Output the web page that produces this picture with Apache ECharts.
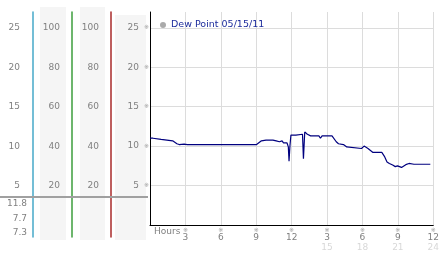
<!DOCTYPE html>
<html><head><meta charset="utf-8">
<script src="https://cdn.jsdelivr.net/npm/echarts@6/dist/echarts.min.js"></script>
<style>html,body{margin:0;padding:0;background:#fff}#c{width:442px;height:253px}</style>
</head><body><div id="c"></div>
<script>
const seriesName = 'Dew Point 05/15/11';
const hours = [0, 0.25, 0.94, 1.92, 2.28, 2.47, 2.89, 3.03, 3.17, 9.03, 9.44, 9.83, 10.42, 10.56, 10.69, 10.97, 11.19, 11.31, 11.47, 11.61, 11.72, 11.78, 11.86, 11.94, 12.36, 12.92, 13.0, 13.11, 13.33, 13.61, 14.31, 14.44, 14.58, 15.42, 15.56, 15.78, 15.97, 16.39, 16.67, 16.81, 17.92, 18.14, 18.47, 18.89, 19.64, 19.86, 20.08, 20.28, 20.56, 20.78, 20.97, 21.31, 21.47, 21.67, 21.94, 22.08, 22.36, 23.75];
const dewPoint = [11.0, 11.0, 10.85, 10.67, 10.3, 10.2, 10.25, 10.35, 10.2, 10.2, 10.67, 10.76, 10.76, 10.85, 10.67, 10.55, 10.67, 10.4, 10.5, 10.4, 9.9, 8.1, 10.1, 11.4, 11.4, 11.5, 8.4, 11.8, 11.5, 11.3, 11.3, 11.0, 11.3, 11.3, 11.1, 10.55, 10.3, 10.2, 9.9, 9.7, 9.7, 10.0, 9.7, 9.2, 9.2, 8.7, 8.0, 7.8, 7.6, 7.4, 7.5, 7.3, 7.5, 7.65, 7.8, 7.65, 7.7, 7.7];
const yTicks = [5, 10, 15, 20, 25];
const pctTicks = [20, 40, 60, 80, 100];
const statLabels = ['11.8', '7.7', '7.3'];
const xAxisTitle = 'Hours';

const FONT = 'DejaVu Sans';
const GRAY = '#808080';
const MARK = '※';
const chart = echarts.init(document.getElementById('c'), null, {renderer: 'canvas'});

const sideAxis = (offset, color, margin, fmt) => ({
  gridIndex: 1, type: 'value', position: 'left', offset: offset,
  min: -1.5, max: 27,
  axisLine: {show: true, onZero: false, lineStyle: {color: color, width: 1.5}},
  axisTick: {show: false},
  splitLine: {show: false},
  axisLabel: {customValues: yTicks, margin: margin, color: GRAY, fontSize: 9, fontFamily: FONT, formatter: fmt}
});

const option = {
  animation: false,
  backgroundColor: '#fff',
  grid: [
    {left: 150, right: 4, top: 12, bottom: 28},
    {left: 150, width: 1, top: 12, bottom: 16}
  ],
  legend: {
    data: [{name: seriesName, icon: 'circle', itemStyle: {color: '#aaaaaa'}}],
    left: 155, top: 15, itemWidth: 6, itemHeight: 6, itemGap: 4,
    textStyle: {color: '#1c2c9c', fontSize: 9.5, fontFamily: FONT}
  },
  xAxis: [
    {
      gridIndex: 0, type: 'value', min: 0, max: 24, interval: 3,
      axisLine: {show: true, onZero: false, lineStyle: {color: '#000', width: 1}},
      axisTick: {show: false},
      splitLine: {show: true, lineStyle: {color: '#dcdcdc', width: 1}},
      axisLabel: {
        showMinLabel: false, margin: 2, fontFamily: FONT, fontSize: 9, color: GRAY,
        formatter: v => v === 0 ? '' : (v <= 12 ? `{m|${MARK}}\n{d|${v}}` : `{m|${MARK}}\n{d|${v - 12}}\n{l|${v}}`),
        rich: {
          m: {fontSize: 6, lineHeight: 6, color: '#999', fontFamily: FONT},
          d: {fontSize: 9, lineHeight: 10, color: GRAY, fontFamily: FONT},
          l: {fontSize: 9, lineHeight: 9, color: '#d8d8d8', fontFamily: FONT}
        }
      }
    },
    {gridIndex: 1, type: 'value', show: false}
  ],
  yAxis: [
    {
      gridIndex: 0, type: 'value', min: 0, max: 27, interval: 5,
      axisLine: {show: true, onZero: false, lineStyle: {color: '#000', width: 1}},
      axisTick: {show: false},
      splitLine: {show: true, showMaxLine: false, lineStyle: {color: '#dcdcdc', width: 1}},
      axisLabel: {
        showMinLabel: false, showMaxLabel: false, margin: 1, fontFamily: FONT, fontSize: 9, color: GRAY,
        formatter: v => `{v|${v}}{m|${MARK}}`,
        rich: {
          v: {fontSize: 9, color: GRAY, fontFamily: FONT},
          m: {fontSize: 6, color: '#999', padding: [0, 0, 0, 5], fontFamily: FONT}
        }
      }
    },
    sideAxis(117, '#46a9c9', 13, v => String(v)),
    sideAxis(78, '#3c9e3c', 12, v => String(v * 4)),
    sideAxis(39, '#a82a2a', 12, v => String(v * 4))
  ],
  graphic: [
    {type: 'rect', z: -10, shape: {x: 40, y: 7, width: 26, height: 233}, style: {fill: '#f5f5f5'}},
    {type: 'rect', z: -10, shape: {x: 80, y: 7, width: 25, height: 233}, style: {fill: '#f5f5f5'}},
    {type: 'rect', z: -10, shape: {x: 115, y: 15, width: 31, height: 225}, style: {fill: '#f5f5f5'}},
    {type: 'line', z: 10, shape: {x1: 0, y1: 197, x2: 148, y2: 197}, style: {stroke: '#a0a0a0', lineWidth: 2}},
    {type: 'text', z: 10, style: {text: statLabels[0], x: 27, y: 204, textAlign: 'right', textVerticalAlign: 'middle', align: 'right', verticalAlign: 'middle', fill: GRAY, font: '9px "DejaVu Sans"'}},
    {type: 'text', z: 10, style: {text: statLabels[1], x: 27, y: 218.5, textAlign: 'right', textVerticalAlign: 'middle', align: 'right', verticalAlign: 'middle', fill: GRAY, font: '9px "DejaVu Sans"'}},
    {type: 'text', z: 10, style: {text: statLabels[2], x: 27, y: 232.5, textAlign: 'right', textVerticalAlign: 'middle', align: 'right', verticalAlign: 'middle', fill: GRAY, font: '9px "DejaVu Sans"'}},
    {type: 'text', z: 10, style: {text: xAxisTitle, x: 154, y: 232, textVerticalAlign: 'middle', verticalAlign: 'middle', fill: GRAY, font: '9px "DejaVu Sans"'}}
  ],
  series: [{
    name: seriesName, type: 'line', xAxisIndex: 0, yAxisIndex: 0,
    data: hours.map((h, i) => [h, dewPoint[i]]),
    showSymbol: false, symbol: 'none',
    lineStyle: {color: '#00007f', width: 1.2},
    itemStyle: {color: '#00007f'}
  }]
};
chart.setOption(option);
</script>
</body></html>
